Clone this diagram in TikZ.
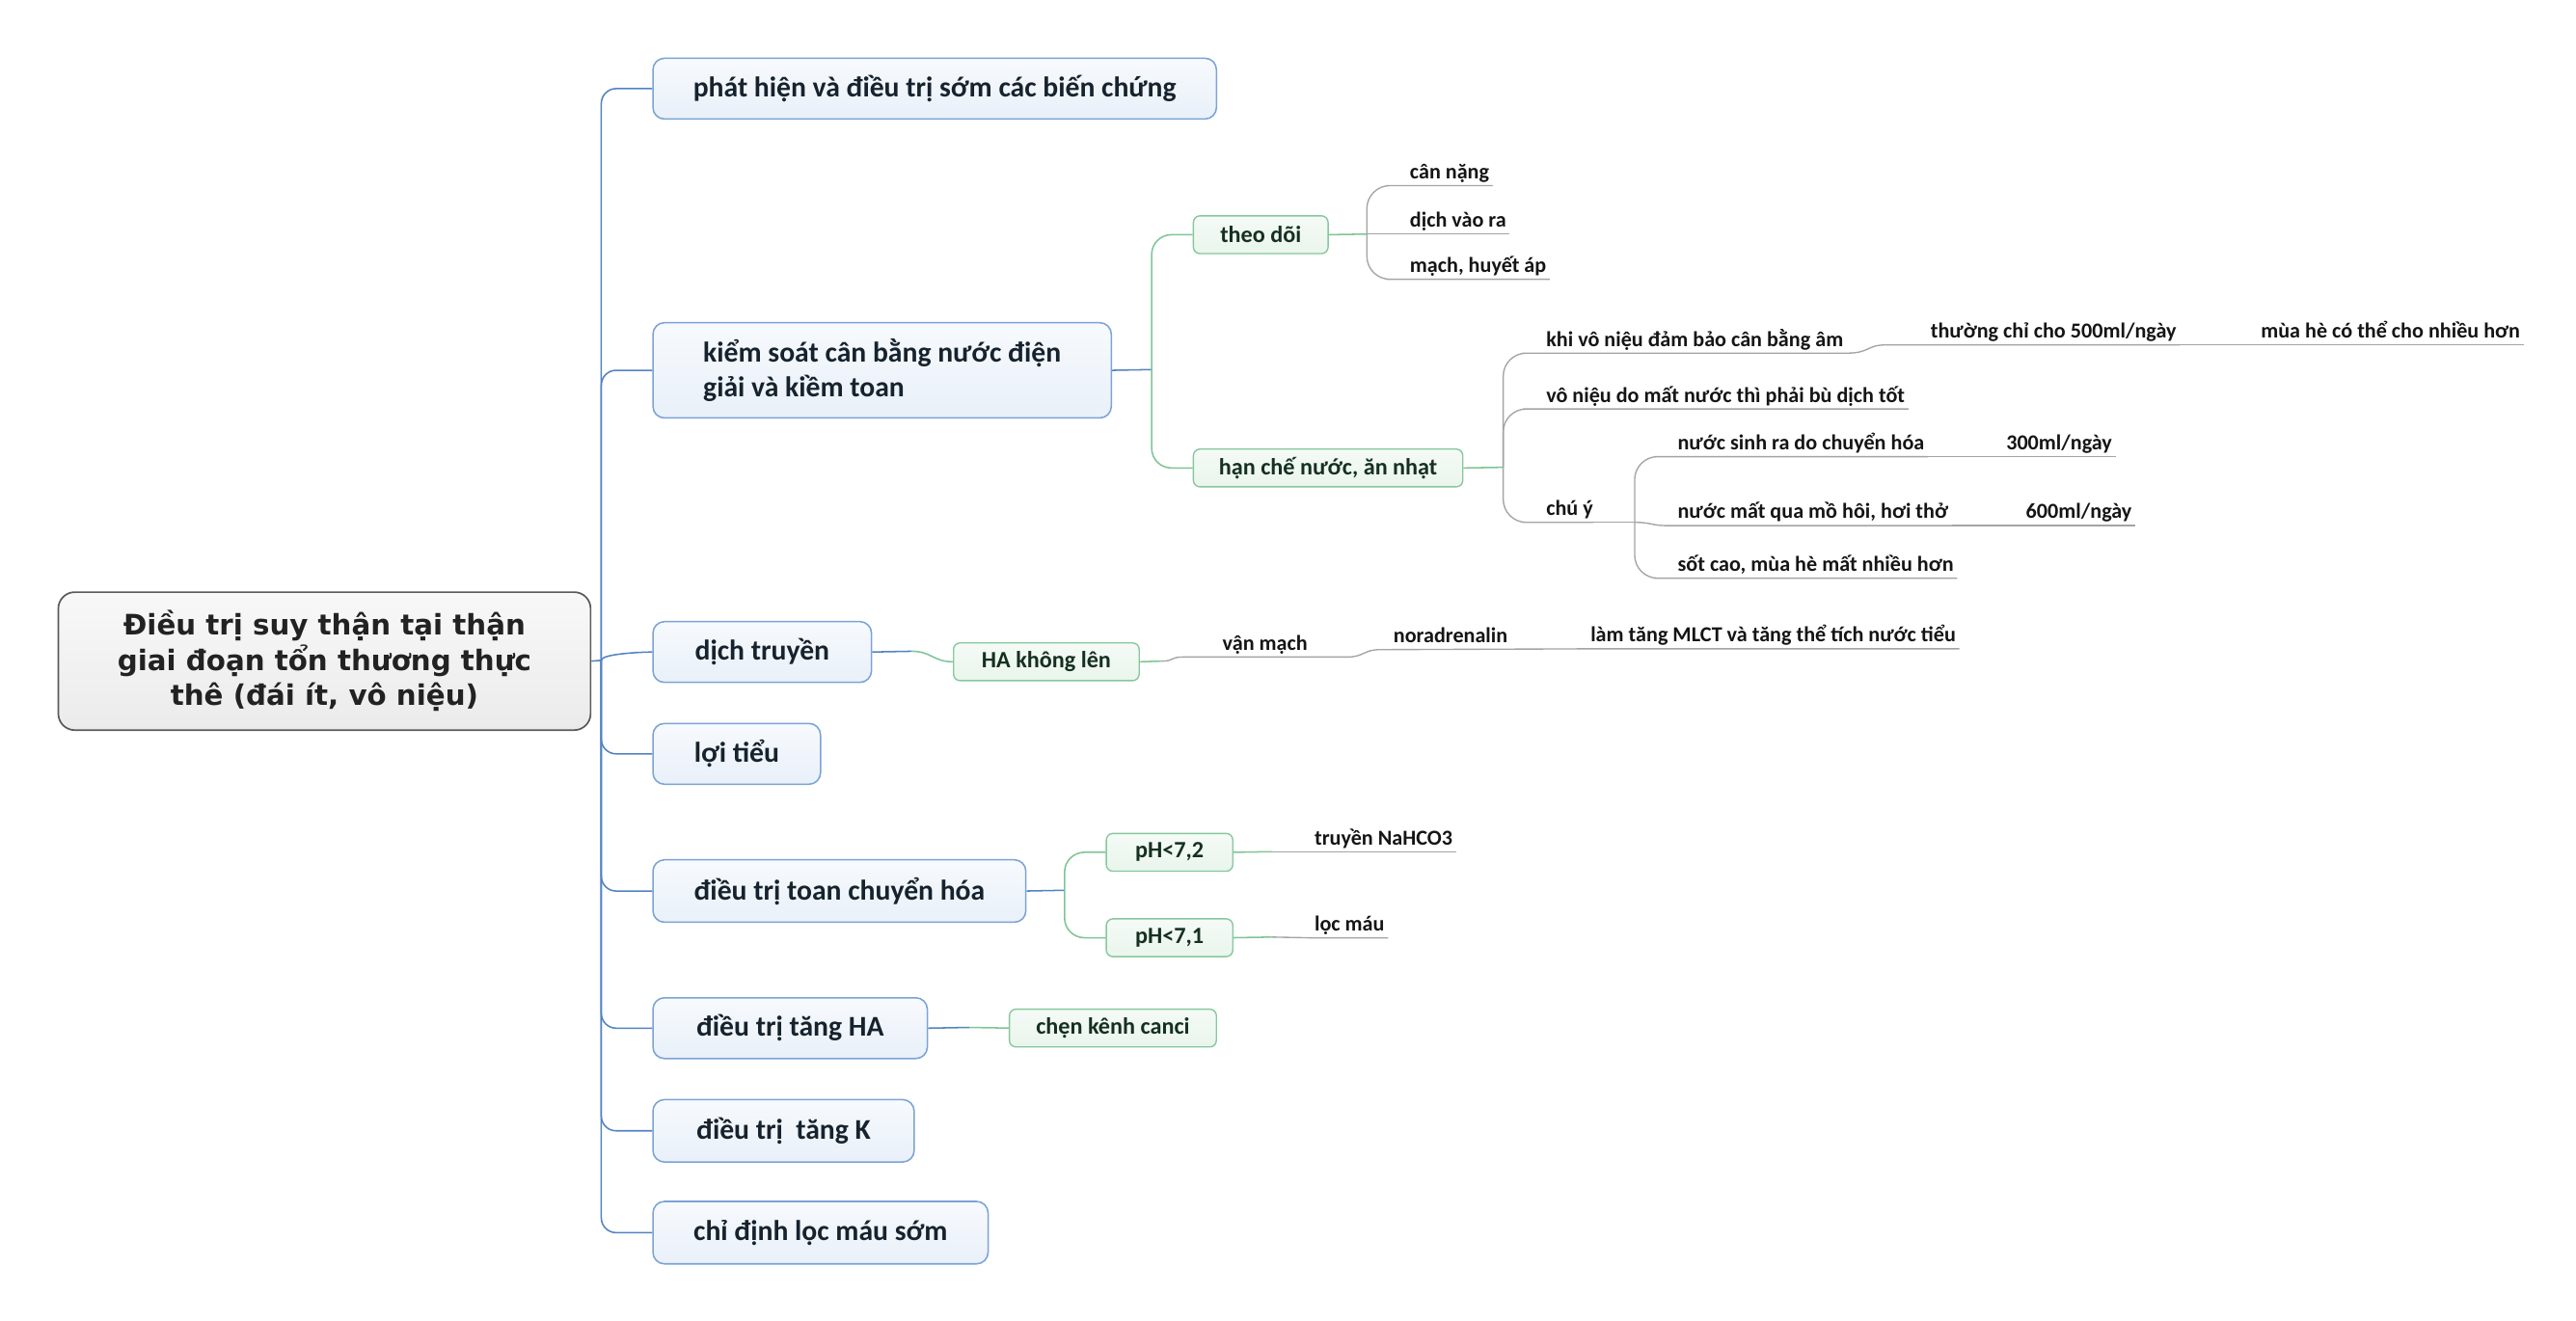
\documentclass[tikz,border=0pt]{standalone}
\usepackage{fontspec}
\setmainfont{Carlito}
\newfontfamily\rootfont{DejaVu Sans}
\usetikzlibrary{calc}

\definecolor{rootLine}{HTML}{5A5A5A}
\definecolor{rootTop}{HTML}{F8F8F8}
\definecolor{rootBot}{HTML}{EBEBEB}
\definecolor{rootText}{HTML}{222222}
\definecolor{mainLine}{HTML}{7BA3D6}
\definecolor{mainTop}{HTML}{F7FAFD}
\definecolor{mainBot}{HTML}{E9F0F9}
\definecolor{mainText}{HTML}{16232E}
\definecolor{trunkLine}{HTML}{5283C2}
\definecolor{subLine}{HTML}{86C89C}
\definecolor{subTop}{HTML}{F5FAF6}
\definecolor{subBot}{HTML}{E9F5EC}
\definecolor{subText}{HTML}{15301F}
\definecolor{greenLine}{HTML}{7FC596}
\definecolor{grayLine}{HTML}{A4A4A4}
\definecolor{leafText}{HTML}{151515}

\begin{document}
\begin{tikzpicture}[x=1pt,y=-1pt,
  rootbox/.style={draw=rootLine, line width=1pt, rounded corners=10pt,
    top color=rootTop, bottom color=rootBot, anchor=north west,
    font=\rootfont\bfseries\fontsize{17.2}{21.5}\selectfont,
    align=center, text=rootText, inner sep=0},
  mainbox/.style={draw=mainLine, line width=0.9pt, rounded corners=7pt,
    top color=mainTop, bottom color=mainBot, anchor=north west,
    font=\bfseries\fontsize{17.4}{21}\selectfont, text=mainText,
    inner sep=0, minimum height=37pt},
  subbox/.style={draw=subLine, line width=0.8pt, rounded corners=4pt,
    top color=subTop, bottom color=subBot, anchor=north west,
    font=\bfseries\fontsize{14.2}{16}\selectfont, text=subText,
    inner sep=0, minimum height=23pt},
  leaf/.style={anchor=south west, inner xsep=0, inner ysep=0,
    text height=10pt, text depth=4pt,
    font=\bfseries\fontsize{13}{15}\selectfont, text=leafText},
  trunk/.style={draw=trunkLine, line width=0.9pt, rounded corners=9pt},
  greenlink/.style={draw=greenLine, line width=0.9pt, rounded corners=12pt},
  graylink/.style={draw=grayLine, line width=0.8pt, rounded corners=14pt},
  curvelink/.style={draw=grayLine, line width=0.8pt, sharp corners},
]
\useasboundingbox (0,0) rectangle (1568,804);
\fill[white] (0,0) rectangle (1568,804);

% central topic
\node[rootbox, minimum width=324pt, minimum height=84pt] (root) at (35,360)
  {Điều trị suy thận tại thận\\giai đoạn tổn thương thực\\thê (đái ít, vô niệu)};

% main topics
\node[mainbox, minimum width=343pt] (b1) at (397,35) {phát hiện và điều trị sớm các biến chứng};
\node[mainbox, minimum width=279pt, minimum height=58pt, align=left] (b2) at (397,196)
  {kiểm soát cân bằng nước điện\\giải và kiềm toan};
\node[mainbox, minimum width=133pt] (b3) at (397,378) {dịch truyền};
\node[mainbox, minimum width=102pt] (b4) at (397,440) {lợi tiểu};
\node[mainbox, minimum width=227pt, minimum height=38pt] (b5) at (397,523) {điều trị toan chuyển hóa};
\node[mainbox, minimum width=167pt] (b6) at (397,607) {điều trị tăng HA};
\node[mainbox, minimum width=159pt, minimum height=38pt] (b7) at (397,669) {điều trị~ tăng K};
\node[mainbox, minimum width=204pt, minimum height=38pt] (b8) at (397,731) {chỉ định lọc máu sớm};

% trunk from the central topic
\coordinate (tj) at (366,402);
\draw[trunk] (root.east) -- (tj);
\foreach \b in {b1,b2,b4,b5,b6,b7,b8}
  \draw[trunk] (tj) |- (\b.west);
\draw[trunk, sharp corners] (tj) .. controls +(0,-4) and +(-6,0) .. (b3.west);

% subtopics
\node[subbox, minimum width=82pt] (theodoi) at (726,131) {theo dõi};
\node[subbox, minimum width=164pt] (hanche) at (726,273) {hạn chế nước, ăn nhạt};
\node[subbox, minimum width=113pt] (hakl) at (580,391) {HA không lên};
\node[subbox, minimum width=77pt] (ph72) at (673,507) {pH<7,2};
\node[subbox, minimum width=77pt] (ph71) at (673,559) {pH<7,1};
\node[subbox, minimum width=126pt] (chen) at (614,614) {chẹn kênh canci};

% links main -> sub
\coordinate (b2j) at (701,225);
\draw[trunk] (b2.east) -- (b2j);
\draw[greenlink] (b2j) |- (theodoi.west);
\draw[greenlink] (b2j) |- (hanche.west);

\coordinate (b3j) at (555,396.5);
\draw[trunk] (b3.east) -- (b3j);
\draw[greenlink, sharp corners] (b3j) .. controls +(12,0) and +(-12,0) .. (hakl.west);

\coordinate (b5j) at (648,542);
\draw[trunk] (b5.east) -- (b5j);
\draw[greenlink] (b5j) |- (ph72.west);
\draw[greenlink] (b5j) |- (ph71.west);

\coordinate (b6j) at (590,625.5);
\draw[trunk] (b6.east) -- (b6j);
\draw[greenlink] (b6j) -- (chen.west);

% leaves
\node[leaf] (cannang) at (858,113) {cân nặng};
\node[leaf] (dichvao) at (858,142.5) {dịch vào ra};
\node[leaf] (mach) at (858,170) {mạch, huyết áp};

\node[leaf] (kvn) at (941,215) {khi vô niệu đảm bảo cân bằng âm};
\node[leaf] (vnd) at (941,249) {vô niệu do mất nước thì phải bù dịch tốt};
\node[leaf] (chuy) at (941,318) {chú ý};
\node[leaf] (thuong) at (1175,210) {thường chỉ cho 500ml/ngày};
\node[leaf] (muahe) at (1376,210) {mùa hè có thể cho nhiều hơn};
\node[leaf] (nsr) at (1021,278) {nước sinh ra do chuyển hóa};
\node[leaf] (nmq) at (1021,320) {nước mất qua mồ hôi, hơi thở};
\node[leaf] (sot) at (1021,352) {sốt cao, mùa hè mất nhiều hơn};
\node[leaf] (ml300) at (1221,278) {300ml/ngày};
\node[leaf] (ml600) at (1233,320) {600ml/ngày};

\node[leaf] (vanmach) at (744,400) {vận mạch};
\node[leaf] (noradr) at (848,395.5) {noradrenalin};
\node[leaf] (lamtang) at (968,395) {làm tăng MLCT và tăng thể tích nước tiểu};

\node[leaf] (nahco) at (800,518.5) {truyền NaHCO3};
\node[leaf] (locmau) at (800,571) {lọc máu};

% links sub -> leaves
\coordinate (tdj) at (832,142.5);
\draw[greenlink] (theodoi.east) -- (tdj);
\draw[graylink] (tdj) |- (cannang.south west) -- ([xshift=2pt]cannang.south east);
\draw[graylink] (tdj) -- (dichvao.south west) -- ([xshift=2pt]dichvao.south east);
\draw[graylink] (tdj) |- (mach.south west) -- ([xshift=2pt]mach.south east);

\coordinate (hcj) at (915,284.5);
\draw[greenlink] (hanche.east) -- (hcj);
\draw[graylink] (hcj) |- (kvn.south west) -- ([xshift=2pt]kvn.south east);
\draw[graylink] (hcj) |- (vnd.south west) -- ([xshift=2pt]vnd.south east);
\draw[graylink] (hcj) |- (chuy.south west) -- (chuy.south east);

\draw[curvelink] ([xshift=2pt]kvn.south east)
  .. controls +(14,0) and +(-12,0) .. ([xshift=-27pt]thuong.south west)
  -- ([xshift=2pt]thuong.south east);
\draw[curvelink] ([xshift=2pt]thuong.south east) -- ([xshift=2pt]muahe.south east);

\coordinate (cyj) at (995,318);
\draw[curvelink] (chuy.south east) -- (cyj);
\draw[graylink] (cyj) |- (nsr.south west) -- ([xshift=2pt]nsr.south east);
\draw[curvelink] (cyj) .. controls +(10,0) and +(-10,0) .. ([xshift=-6pt]nmq.south west)
  -- ([xshift=2pt]nmq.south east);
\draw[graylink] (cyj) |- (sot.south west) -- ([xshift=2pt]sot.south east);
\draw[curvelink] ([xshift=2pt]nsr.south east) -- ([xshift=2pt]ml300.south east);
\draw[curvelink] ([xshift=2pt]nmq.south east) -- ([xshift=2pt]ml600.south east);

\coordinate (haj) at (707,402.5);
\draw[greenlink] (hakl.east) -- (haj);
\draw[curvelink] (haj) .. controls +(8,0) and +(-8,0) .. ([xshift=-24pt]vanmach.south west)
  -- ([xshift=24pt]vanmach.south east)
  .. controls +(10,0) and +(-10,0) .. ([xshift=-8pt]noradr.south west)
  -- (lamtang.south west) -- ([xshift=2pt]lamtang.south east);

\coordinate (p2j) at (774,518.5);
\draw[greenlink] (ph72.east) -- (p2j);
\draw[curvelink] (p2j) -- (nahco.south west) -- ([xshift=2pt]nahco.south east);
\coordinate (p1j) at (774,570.5);
\draw[greenlink] (ph71.east) -- (p1j);
\draw[curvelink] (p1j) -- (locmau.south west) -- ([xshift=2pt]locmau.south east);
\end{tikzpicture}
\end{document}
